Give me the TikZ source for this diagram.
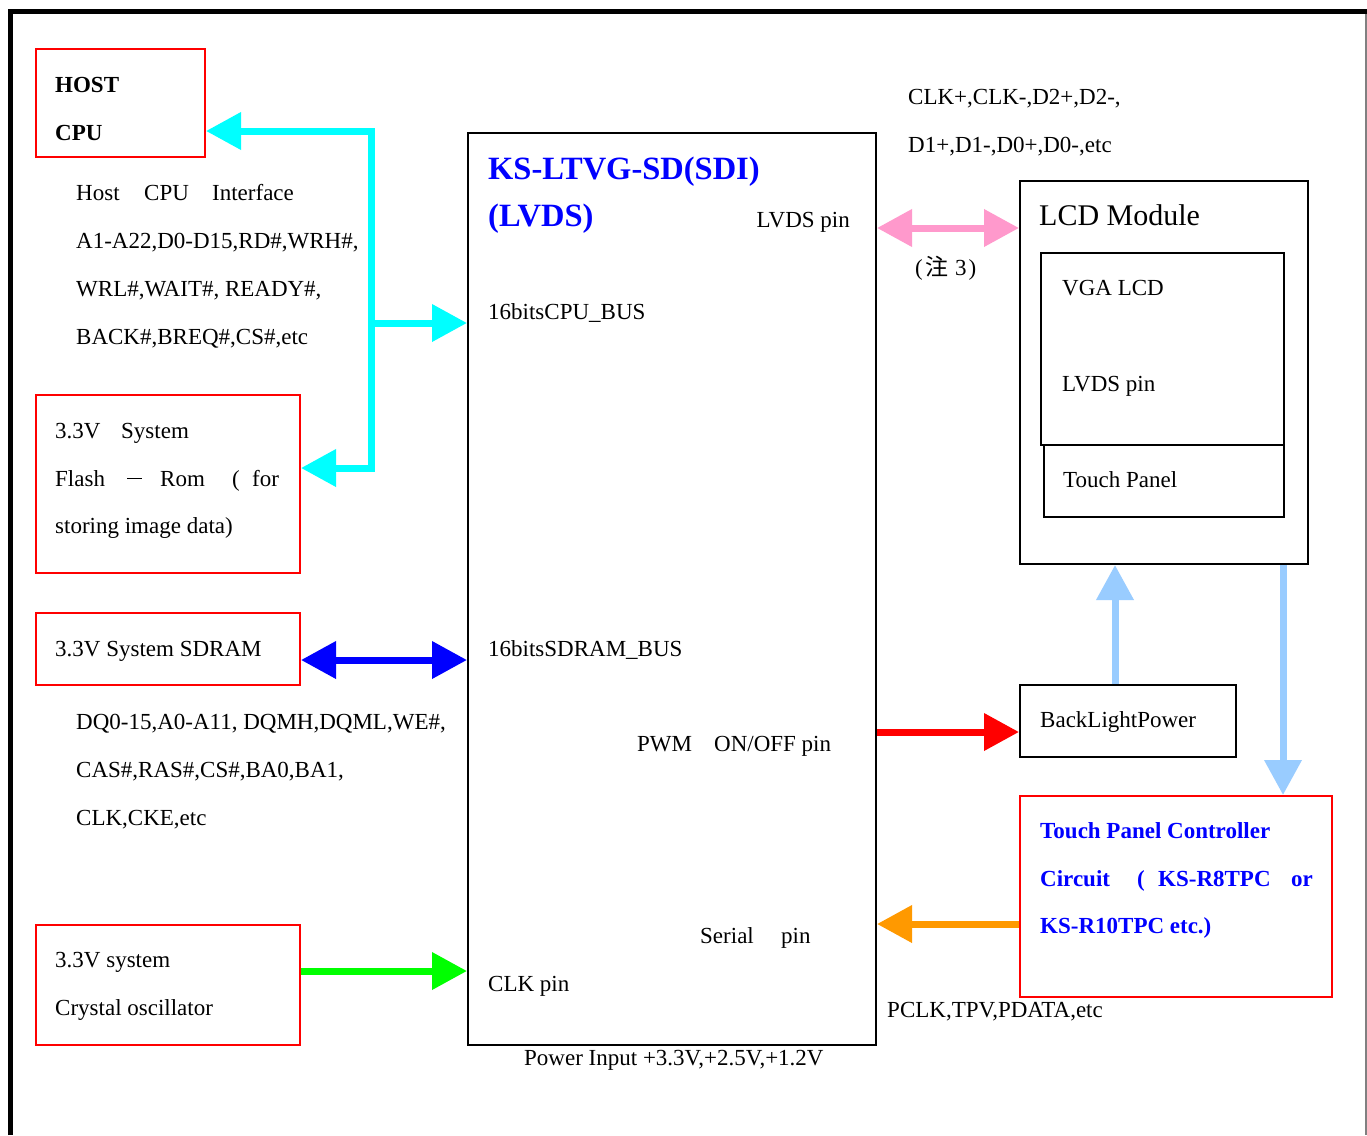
\documentclass[tikz,border=0pt]{standalone}
\usepackage{fontspec}
\setmainfont{Liberation Serif}
\newfontfamily\cjk{Noto Sans CJK JP}
\usetikzlibrary{arrows.meta}
\definecolor{cyanA}{HTML}{00FFFF}
\definecolor{pinkA}{HTML}{FF99CC}
\definecolor{lblueA}{HTML}{99CCFF}
\definecolor{orangeA}{HTML}{FF9900}
\definecolor{greenA}{HTML}{00FF00}
\definecolor{blueA}{HTML}{0000FF}
\definecolor{redA}{HTML}{FF0000}
\begin{document}
\begin{tikzpicture}[x=1pt,y=-1pt,
  redbox/.style={draw=redA, line width=2pt, anchor=north west, inner sep=0pt},
  blkbox/.style={draw=black, line width=2pt, anchor=north west, inner sep=0pt},
  txt/.style={anchor=base west, inner sep=0pt, font=\fontsize{23}{27}\selectfont},
  btxt/.style={anchor=base west, inner sep=0pt, font=\fontsize{23}{27}\selectfont\bfseries},
  conn/.style={line width=7pt, -{Triangle[length=35pt,width=36pt]}},
  conntwo/.style={line width=7pt, {Triangle[length=35pt,width=36pt]}-{Triangle[length=35pt,width=36pt]}}
]
\useasboundingbox (0,0) rectangle (1367,1135);
\fill[white] (0,0) rectangle (1367,1135);
% frame
\draw[line width=5pt] (10.5,1135) -- (10.5,11.5) -- (1367,11.5);
\draw[gray, line width=1.5pt] (1366,14) -- (1366,1135);

% boxes
\node[redbox, minimum width=169pt, minimum height=108pt] (host) at (35,48) {};
\node[redbox, minimum width=264pt, minimum height=178pt] (flash) at (35,394) {};
\node[redbox, minimum width=264pt, minimum height=72pt] (sdram) at (35,612) {};
\node[redbox, minimum width=264pt, minimum height=120pt] (xtal) at (35,924) {};
\node[blkbox, minimum width=408pt, minimum height=912pt] (ks) at (467,132) {};
\node[blkbox, minimum width=288pt, minimum height=383pt] (lcd) at (1019,180) {};
\node[blkbox, minimum width=243pt, minimum height=192pt] (vga) at (1040,252) {};
\node[blkbox, minimum width=240pt, minimum height=72pt] (touch) at (1043,444) {};
\node[blkbox, minimum width=216pt, minimum height=72pt] (bl) at (1019,684) {};
\node[redbox, minimum width=312pt, minimum height=201pt] (tpc) at (1019,795) {};

% helper coordinates
\coordinate (cj1) at (371,131);
\coordinate (cj2) at (371,323);
\coordinate (cj3) at (371,468);
\coordinate (ysd) at (0,660);
\coordinate (ygr) at (0,971);
\coordinate (ypk) at (0,228);
\coordinate (yrd) at (0,732);
\coordinate (yor) at (0,924);
\coordinate (xup) at (1115,0);
\coordinate (xdn) at (1283,0);

% connectors
\draw[cyanA, line width=7pt, line cap=rect] (cj1) -- (cj3);
\draw[conn, cyanA] (cj1) -- (cj1 -| host.east);
\draw[conn, cyanA] (cj2) -- (cj2 -| ks.west);
\draw[conn, cyanA] (cj3) -- (cj3 -| flash.east);
\draw[conntwo, blueA] (sdram.east |- ysd) -- (ks.west |- ysd);
\draw[conn, greenA] (xtal.east |- ygr) -- (ks.west |- ygr);
\draw[conntwo, pinkA] (ks.east |- ypk) -- (lcd.west |- ypk);
\draw[conn, redA] (ks.east |- yrd) -- (bl.west |- yrd);
\draw[conn, orangeA] (tpc.west |- yor) -- (ks.east |- yor);
\draw[conn, lblueA] (bl.north -| xup) -- (lcd.south -| xup);
\draw[conn, lblueA] (lcd.south -| xdn) -- (tpc.north -| xdn);

% texts left
\node[btxt] (thost) at (55,92) {HOST};
\node[btxt] (tcpu) at (55,140) {CPU};
\node[txt] (hi1) at (76,200) {\makebox[68pt][l]{Host}\makebox[68pt][l]{CPU}Interface};
\node[txt] (hi2) at (76,248) {A1-A22,D0-D15,RD\#,WRH\#,};
\node[txt] (hi3) at (76,296) {WRL\#,WAIT\#, READY\#,};
\node[txt] (hi4) at (76,344) {BACK\#,BREQ\#,CS\#,etc};
\node[txt] (fl1) at (55,438) {\makebox[66pt][l]{3.3V}System};
\node[txt] (fl2) at (55,486) {\makebox[72pt][l]{Flash}\makebox[33pt][l]{\raisebox{7pt}{\rule{15pt}{1pt}}}\makebox[72pt][l]{Rom}\makebox[20pt][l]{(}for};
\node[txt] (fl3) at (55,533) {storing image data)};
\node[txt] (sd1) at (55,656) {3.3V System SDRAM};
\node[txt] (dq1) at (76,729) {DQ0-15,A0-A11, DQMH,DQML,WE\#,};
\node[txt] (dq2) at (76,777) {CAS\#,RAS\#,CS\#,BA0,BA1,};
\node[txt] (dq3) at (76,825) {CLK,CKE,etc};
\node[txt] (xt1) at (55,967) {3.3V system};
\node[txt] (xt2) at (55,1015) {Crystal oscillator};

% texts in main chip
\node[anchor=base west, inner sep=0pt, text=blueA, font=\fontsize{32.5}{36}\selectfont\bfseries] (ttl1) at (488,179) {KS-LTVG-SD(SDI)};
\node[anchor=base west, inner sep=0pt, text=blueA, font=\fontsize{32.5}{36}\selectfont\bfseries] (ttl2) at (488,226) {(LVDS)};
\node[txt, anchor=base east] (lvp) at (850,227) {LVDS pin};
\node[txt] (cpub) at (488,319) {16bitsCPU\_BUS};
\node[txt] (sdb) at (488,656) {16bitsSDRAM\_BUS};
\node[txt] (pwm) at (637,751) {\makebox[77pt][l]{PWM}ON/OFF pin};
\node[txt] (ser) at (700,943) {\makebox[81pt][l]{Serial}pin};
\node[txt] (clkp) at (488,991) {CLK pin};
\node[txt] (pwr) at (524,1065) {Power Input +3.3V,+2.5V,+1.2V};

% texts right
\node[txt] (lv1) at (908,104) {CLK+,CLK-,D2+,D2-,};
\node[txt] (lv2) at (908,152) {D1+,D1-,D0+,D0-,etc};
\node[txt] (note) at (915,275) {\makebox[10pt][l]{(}{\cjk 注}\hspace{7pt}3\hspace{2pt})};
\node[anchor=base west, inner sep=0pt, font=\fontsize{30}{34}\selectfont] (lcdt) at (1039,225) {LCD Module};
\node[txt] (vgat) at (1062,295) {VGA LCD};
\node[txt] (vgap) at (1062,391) {LVDS pin};
\node[txt] (tcht) at (1063,487) {Touch Panel};
\node[txt] (blt) at (1040,727) {BackLightPower};
\node[btxt, text=blueA] (tp1) at (1040,838) {Touch Panel Controller};
\node[btxt, text=blueA] (tp2) at (1040,886) {\makebox[97pt][l]{Circuit}\makebox[21pt][l]{(}\makebox[133pt][l]{KS-R8TPC}or};
\node[btxt, text=blueA] (tp3) at (1040,933) {KS-R10TPC etc.)};
\node[txt] (pclk) at (887,1017) {PCLK,TPV,PDATA,etc};
\end{tikzpicture}
\end{document}
